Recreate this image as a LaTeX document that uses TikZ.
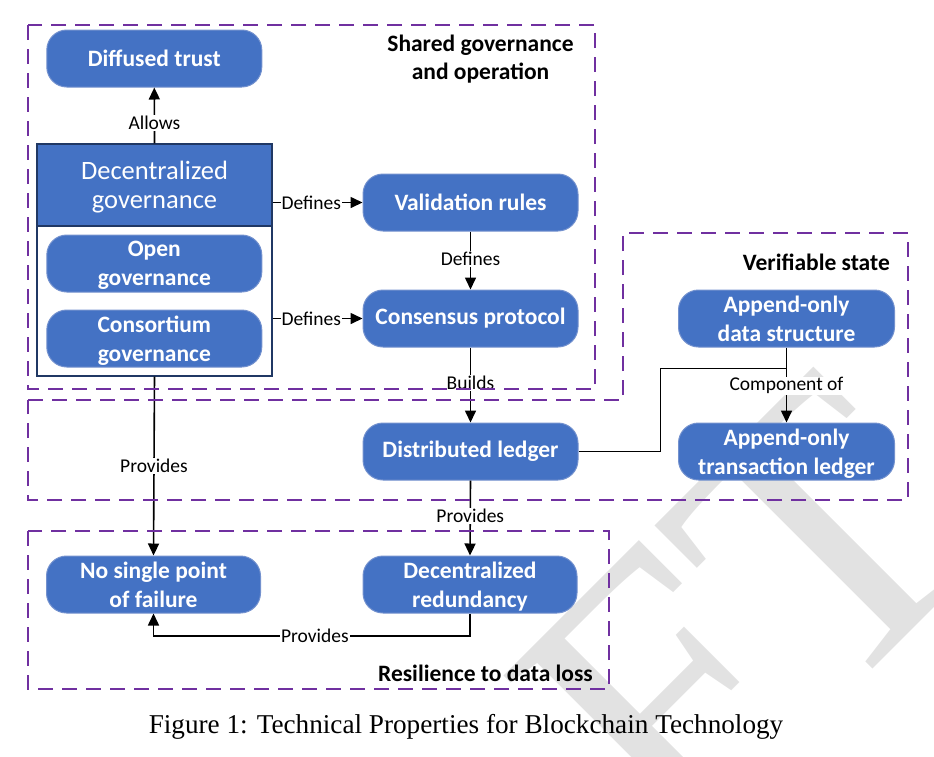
\documentclass[tikz,border=0pt]{standalone}
\usepackage{fontspec}
\setmainfont{Carlito}
\newfontfamily\seriffont{Liberation Serif}
\usetikzlibrary{arrows.meta}
\definecolor{nodeblue}{HTML}{4472C4}
\definecolor{nodeedge}{HTML}{7391CE}
\definecolor{navyedge}{HTML}{203864}
\definecolor{regionpurple}{HTML}{7030A0}
\definecolor{wmgray}{gray}{0.885}
\begin{document}
\begin{tikzpicture}[x=1pt,y=-1pt,
  blockbox/.style={rectangle, rounded corners=20pt, fill=nodeblue, draw=nodeedge, line width=1pt,
    minimum width=215pt, minimum height=57pt, text=white,
    font=\fontsize{23.5}{29}\selectfont\bfseries, align=center, inner sep=0pt},
  twoline/.style={text depth=0pt},
  link/.style={line width=1.6pt, -{Triangle[length=12pt,width=11pt]}},
  plainlink/.style={line width=1.6pt},
  linklabel/.style={fill=white, inner sep=1pt, font=\fontsize{19.5}{22}\selectfont, text=black},
  region/.style={draw=regionpurple, line width=2.8pt, dash pattern=on 15pt off 9pt},
  regiontitle/.style={font=\fontsize{23.5}{28}\selectfont\bfseries, align=center, inner sep=0pt}
]
\useasboundingbox (0,0) rectangle (934,756);
% watermark
\begin{scope}
\clip (0,0) rectangle (934,756);
\node[anchor=base east, rotate=45, inner sep=0pt, text=wmgray,
  font=\seriffont\fontsize{39}{39}\selectfont, scale=10, transform shape] (wm) at (1000,541) {DRAFT};
\end{scope}

% nodes
\node[blockbox] (trust) at (154.3,58.5) {Diffused trust};
\node[draw=navyedge, line width=1.2pt, minimum width=235pt, minimum height=232pt, inner sep=0pt] (dg) at (154.5,260) {};
\node[fill=nodeblue, draw=navyedge, line width=1.2pt, minimum width=235pt, minimum height=82pt,
  inner sep=0pt, text=white, align=center, text depth=0pt, font=\fontsize{26.5}{29}\selectfont] (dgh) at (154.5,185) {Decentralized\\governance};
\node[blockbox, twoline] (open) at (154.3,263.5) {Open\\governance};
\node[blockbox, twoline] (consort) at (154.3,338.5) {Consortium\\governance};
\node[blockbox] (valid) at (470.5,202.5) {Validation rules};
\node[blockbox] (consensus) at (470.5,318.5) {Consensus protocol};
\node[blockbox] (dist) at (470.5,451.5) {Distributed ledger};
\node[blockbox, twoline, minimum width=216pt] (ads) at (786.5,318.5) {Append-only\\data structure};
\node[blockbox, twoline, minimum width=216pt] (atl) at (786.5,451.5) {Append-only\\transaction ledger};
\node[blockbox, twoline, minimum width=214pt] (nspf) at (153.5,584.5) {No single point\\of failure};
\node[blockbox, twoline, minimum width=214pt] (dred) at (470,584.5) {Decentralized\\redundancy};

% connectors
\draw[link] (dgh.north) -- node[linklabel, pos=0.37] {Allows} (trust.south);
\draw[link] (dg.east |- valid.west) -- node[linklabel, pos=0.43] {Defines} (valid.west);
\draw[link] (dg.east |- consensus.west) -- node[linklabel, pos=0.43] {Defines} (consensus.west);
\draw[link] (valid.south) -- node[linklabel, pos=0.47] {Defines} (consensus.north);
\draw[link] (consensus.south) -- node[linklabel, pos=0.47] {Builds} (dist.north);
\draw[link] (dg.south) -- node[linklabel, pos=0.5] {Provides} (nspf.north);
\draw[link] (dist.south) -- node[linklabel, pos=0.47] {Provides} (dred.north);
\coordinate (redturn) at (470,636);
\draw[link] (dred.south) -- (redturn) -- node[linklabel, pos=0.49] {Provides} (redturn -| nspf.south) -- (nspf.south);
\coordinate (junction) at (786.5,368.3);
\draw[link] (ads.south) -- node[linklabel, pos=0.51] {Component of} (atl.north);
\draw[plainlink] (dist.east) -- (660.6,451.5) -- (660.6,368.3) -- (junction);

% regions
\draw[region] (28,25) rectangle (595,389);
\draw[region] (28,400) -- (623,400) -- (623,233) -- (908,233) -- (908,500) -- (28,500) -- cycle;
\draw[region] (28,531) rectangle (609,689);
\node[regiontitle] (sharedtitle) at (480.5,59) {Shared governance\\and operation};
\node[regiontitle, anchor=east] (veriftitle) at (890,262) {Verifiable state};
\node[regiontitle, anchor=east] (resiltitle) at (593,673) {Resilience to data loss};

% caption
\node[font=\seriffont\fontsize{27.2}{30}\selectfont, inner sep=0pt] (caption) at (466,727) {Figure 1: Technical Properties for Blockchain Technology};
\end{tikzpicture}
\end{document}
